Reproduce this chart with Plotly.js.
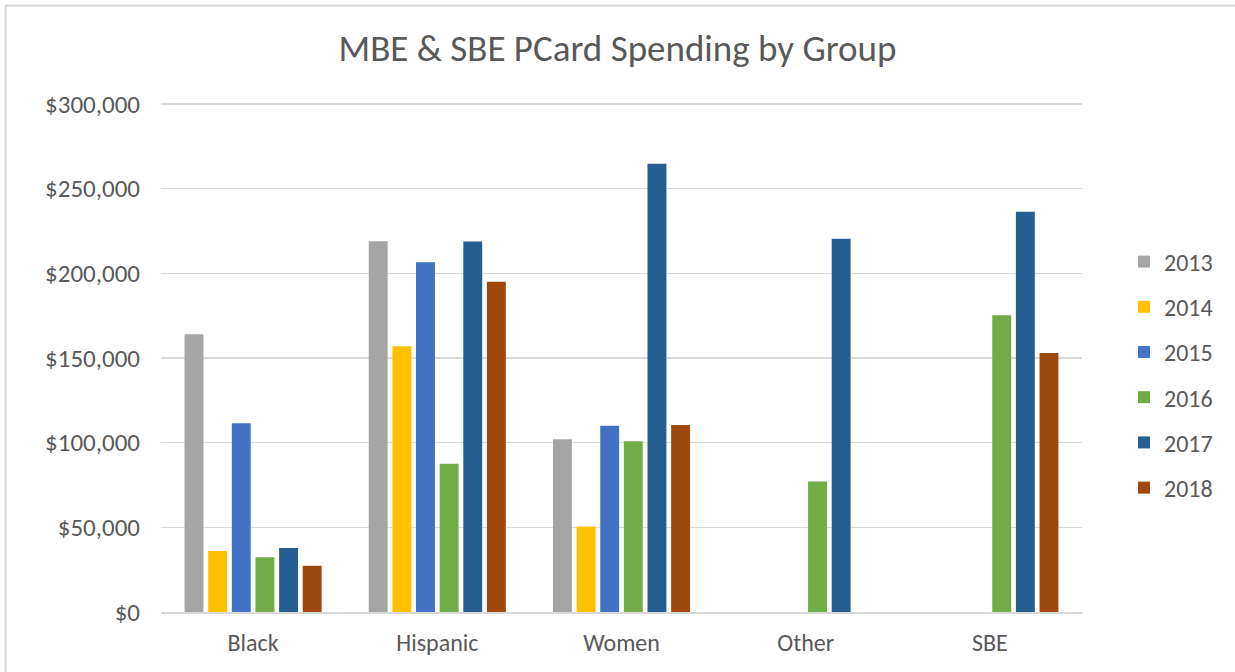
<!DOCTYPE html>
<html>
<head>
<meta charset="utf-8">
<script src="https://cdn.plot.ly/plotly-3.0.1.min.js"></script>
<style>html,body{margin:0;padding:0;background:#fff;}#chart{width:1235px;height:672px;}</style>
</head>
<body>
<div id="chart"></div>
<script>
const categories = ["Black", "Hispanic", "Women", "Other", "SBE"];
const years = ["2013", "2014", "2015", "2016", "2017", "2018"];
const v2013 = [164000, 219000, 102000, null, null];
const v2014 = [36000, 157000, 50500, null, null];
const v2015 = [111500, 206500, 110000, null, null];
const v2016 = [32300, 87600, 100800, 77000, 175300];
const v2017 = [37800, 218800, 264700, 220400, 236400];
const v2018 = [27300, 195000, 110500, null, 153000];
const seriesValues = [v2013, v2014, v2015, v2016, v2017, v2018];
const colors = ["#A5A5A5", "#FFC000", "#4472C4", "#70AD47", "#255E91", "#9E480E"];

const FONT = "Carlito, Lato, 'Liberation Sans', sans-serif";
const TXT = "#595959";

const traces = years.map((y, i) => ({
  type: "bar",
  name: y,
  x: categories,
  y: seriesValues[i],
  marker: {color: colors[i], line: {width: 0}},
  legendgroup: y
}));

// plot area geometry in pixels
const W = 1235, H = 672;
const L = 161, R = 153, T = 103, B = 60;
const pw = W - L - R, ph = H - T - B;
const px = v => (v - L) / pw;
const py = v => (H - B - v) / ph;

const layout = {
  width: W, height: H,
  margin: {l: L, r: R, t: T, b: B, pad: 0},
  paper_bgcolor: "#ffffff",
  plot_bgcolor: "#ffffff",
  font: {family: FONT, color: TXT, size: 24},
  title: {
    text: "MBE & SBE PCard Spending by Group",
    font: {family: FONT, size: 37, color: TXT},
    x: 0.5, xref: "container", xanchor: "center",
    y: 1 - 48 / H, yref: "container", yanchor: "middle"
  },
  barmode: "group",
  bargap: 0.23,
  bargroupgap: 0.2,
  xaxis: {
    type: "category",
    showgrid: false,
    showline: true, linecolor: "#d9d9d9", linewidth: 1.5,
    ticks: "",
    tickfont: {family: FONT, size: 24, color: TXT},
    ticklabelstandoff: 9,
    fixedrange: true
  },
  yaxis: {
    range: [0, 300600],
    dtick: 50000,
    tickprefix: "$",
    tickformat: ",d",
    showgrid: true, gridcolor: "#d9d9d9", gridwidth: 1.5,
    zeroline: false,
    showline: false,
    ticks: "",
    tickfont: {family: FONT, size: 25, color: TXT},
    ticklabelstandoff: 20,
    fixedrange: true
  },
  legend: {
    x: px(1124), xanchor: "left",
    y: py(375), yanchor: "middle",
    traceorder: "grouped",
    tracegroupgap: 11,
    font: {family: FONT, size: 24, color: TXT},
    bgcolor: "rgba(0,0,0,0)",
    itemclick: false, itemdoubleclick: false
  },
  shapes: [
    {type: "line", xref: "paper", yref: "paper", x0: px(5.5), x1: px(1240), y0: py(5.5), y1: py(5.5), line: {color: "#d9d9d9", width: 2}},
    {type: "line", xref: "paper", yref: "paper", x0: px(5.5), x1: px(5.5), y0: py(5.5), y1: py(680), line: {color: "#d9d9d9", width: 2}}
  ],
  showlegend: true,
  hovermode: false
};

Plotly.newPlot("chart", traces, layout, {displayModeBar: false, staticPlot: true});
</script>
</body>
</html>
